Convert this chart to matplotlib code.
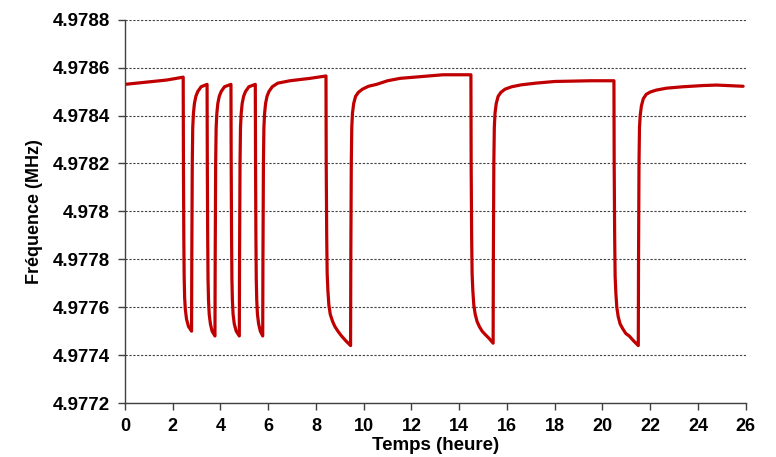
import matplotlib
matplotlib.use('Agg')
import matplotlib.pyplot as plt
from matplotlib.ticker import MultipleLocator, FuncFormatter

# Temps (heure) et fréquence (MHz)
temps = [
    0.00, 1.75, 2.44,
    # cycle 1
    2.45, 2.465, 2.48, 2.50, 2.53, 2.58, 2.66, 2.79,
    2.80, 2.82, 2.84, 2.87, 2.91, 2.97, 3.05, 3.19, 3.44,
    # cycle 2
    3.45, 3.465, 3.48, 3.50, 3.53, 3.58, 3.65, 3.77,
    3.78, 3.80, 3.82, 3.85, 3.89, 3.95, 4.03, 4.17, 4.44,
    # cycle 3
    4.45, 4.465, 4.48, 4.50, 4.53, 4.58, 4.66, 4.79,
    4.80, 4.82, 4.84, 4.87, 4.91, 4.97, 5.05, 5.19, 5.46,
    # cycle 4
    5.47, 5.485, 5.50, 5.52, 5.55, 5.60, 5.67, 5.77,
    5.78, 5.80, 5.82, 5.85, 5.89, 5.95, 6.03, 6.17, 6.40, 6.91, 7.75, 8.42,
    # cycle long 1
    8.43, 8.45, 8.47, 8.50, 8.54, 8.60, 8.70, 8.79, 8.92, 9.07, 9.25, 9.45,
    9.46, 9.48, 9.50, 9.53, 9.58, 9.66, 9.78, 9.95, 10.20, 10.54, 11.00, 11.52, 12.50, 13.32, 14.49,
    # cycle long 2
    14.50, 14.52, 14.54, 14.57, 14.61, 14.67, 14.75, 14.85, 14.96, 15.10, 15.25, 15.42,
    15.43, 15.45, 15.47, 15.50, 15.55, 15.63, 15.75, 15.92, 16.20, 16.60, 17.20, 18.00, 19.50, 20.48,
    # cycle long 3
    20.49, 20.51, 20.53, 20.56, 20.60, 20.66, 20.74, 20.85, 20.98, 21.12, 21.30, 21.50,
    21.51, 21.53, 21.55, 21.58, 21.63, 21.71, 21.83, 22.00, 22.25, 22.68, 23.38, 24.20, 24.78, 25.89,
]
frequence = [
    4.97853, 4.978548, 4.97856,
    4.97820, 4.97790, 4.97773, 4.97764, 4.97759, 4.97755, 4.97752, 4.97750,
    4.97780, 4.97820, 4.97835, 4.97841, 4.97845, 4.97848, 4.97850, 4.97852, 4.97853,
    4.97820, 4.97790, 4.97772, 4.97763, 4.97757, 4.97753, 4.97750, 4.97748,
    4.97780, 4.97820, 4.97835, 4.97841, 4.97845, 4.97848, 4.97850, 4.97852, 4.97853,
    4.97820, 4.97790, 4.97772, 4.97763, 4.97757, 4.97753, 4.97750, 4.97748,
    4.97780, 4.97820, 4.97835, 4.97841, 4.97845, 4.97848, 4.97850, 4.97852, 4.97853,
    4.97820, 4.97790, 4.97772, 4.97763, 4.97757, 4.97753, 4.97750, 4.97748,
    4.97780, 4.97820, 4.97835, 4.97841, 4.97845, 4.97848, 4.97850, 4.97852, 4.978535, 4.978545, 4.978555, 4.978565,
    4.97820, 4.97790, 4.97774, 4.97767, 4.97761, 4.97757, 4.97754, 4.97752, 4.97750, 4.97748, 4.97746, 4.97744,
    4.97780, 4.97820, 4.97835, 4.97841, 4.97845, 4.97848, 4.978497, 4.97851, 4.978522, 4.97853, 4.978545, 4.978555, 4.978563, 4.97857, 4.97857,
    4.97820, 4.97790, 4.97774, 4.97767, 4.97761, 4.97757, 4.97754, 4.977518, 4.97750, 4.977485, 4.97747, 4.97745,
    4.97780, 4.97820, 4.97835, 4.97841, 4.97845, 4.97848, 4.978497, 4.97851, 4.97852, 4.978528, 4.978535, 4.978542, 4.978545, 4.978545,
    4.97820, 4.97790, 4.97773, 4.97766, 4.97760, 4.97756, 4.97753, 4.97751, 4.97749, 4.97748, 4.97746, 4.97744,
    4.97780, 4.97820, 4.97835, 4.97840, 4.97844, 4.97847, 4.978488, 4.978498, 4.978506, 4.978514, 4.97852, 4.978525, 4.978527, 4.978522,
]

plt.rcParams['font.family'] = ['Liberation Sans', 'DejaVu Sans']

fig = plt.figure(figsize=(7.76, 4.57), dpi=100)
ax = fig.add_axes([0.161, 0.118, 0.800, 0.839])

ax.plot(temps, frequence, color='#C00000', linewidth=2.3,
        solid_joinstyle='round', solid_capstyle='round')

ax.set_xlim(0, 26)
ax.set_ylim(4.9772, 4.9788)
ax.xaxis.set_major_locator(MultipleLocator(2))
ax.yaxis.set_major_locator(MultipleLocator(0.0002))
ax.yaxis.set_major_formatter(FuncFormatter(lambda v, p: f"{v:.4f}".rstrip('0').rstrip('.')))

ax.grid(axis='y', linestyle=(0, (2, 1.5)), color='#404040', linewidth=0.8)
ax.set_axisbelow(True)
for s in ['top', 'right']:
    ax.spines[s].set_visible(False)
for s in ['left', 'bottom']:
    ax.spines[s].set_color('#404040')
    ax.spines[s].set_linewidth(1.0)

ax.tick_params(axis='both', direction='out', length=5, width=1, color='#404040')
ax.tick_params(axis='y', labelsize=13.5, pad=6)
ax.tick_params(axis='x', labelsize=13, pad=6)
for lbl in ax.get_xticklabels() + ax.get_yticklabels():
    lbl.set_fontweight('bold')

ax.set_xlabel('Temps (heure)', fontsize=13.5, fontweight='bold', labelpad=1)
ax.set_ylabel('Fréquence (MHz)', fontsize=13, fontweight='bold', labelpad=7)

fig.savefig('out.png', dpi=100)
